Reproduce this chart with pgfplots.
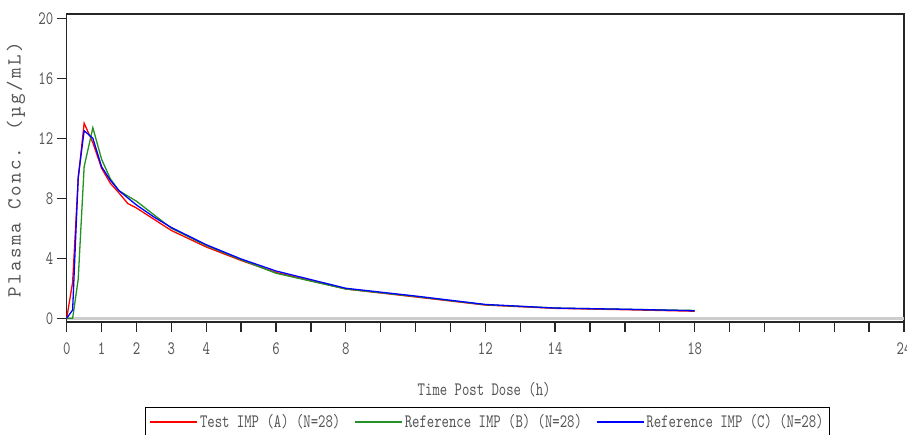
\documentclass[border=0pt]{standalone}
\usepackage{fontspec}
\usepackage{pgfplots}
\pgfplotsset{compat=1.18}
\newfontfamily\narrowmono[Extension=.otf, FakeStretch=0.74]{lmmono10-regular}
\newfontfamily\ylabmono[Extension=.otf, LetterSpace=12]{lmmono10-regular}
\definecolor{lblgray}{RGB}{85,85,85}
\definecolor{sasgreen}{RGB}{35,145,35}
\definecolor{zerogray}{RGB}{205,205,205}

\begin{document}
\begin{tikzpicture}
\begin{axis}[
  at={(0pt,0pt)}, anchor=south west,
  scale only axis, width=837.3pt, height=308pt,
  xmin=0, xmax=24, ymin=-0.25, ymax=20.28,
  xtick={0,1,...,24},
  xticklabels={0,1,2,3,4,,6,,8,,,,12,,14,,,,18,,,,,,24},
  ytick={0,4,8,12,16,20},
  tick align=outside, major tick length=10pt,
  xtick pos=bottom, ytick pos=left,
  tick style={line width=1.3pt, black!85},
  axis line style={line width=1.6pt, black!85},
  /pgf/number format/assume math mode=true,
  tick label style={font=\fontsize{19}{21}\narrowmono, text=lblgray},
  xticklabel style={yshift=-7pt},
  xlabel={Time Post Dose (h)},
  xlabel style={font=\fontsize{19}{21}\narrowmono, text=lblgray,
    at={(axis description cs:0.4986,-0.221)}, anchor=center},
  ylabel={Plasma Conc. (µg/mL)},
  ylabel style={font=\fontsize{20}{22}\ylabmono, text=lblgray,
    at={(axis description cs:-0.0606,0.4935)}, anchor=center, rotate=0},
  legend columns=3,
  legend style={at={(axis description cs:0.5027,-0.276)}, anchor=north,
    line width=1.1pt, fill=white,
    font=\fontsize{19}{21}\narrowmono, text=lblgray,
    inner xsep=4pt, inner ysep=5pt,
    /tikz/every even column/.append style={column sep=12pt}},
  legend image code/.code={\draw[#1, line width=1.5pt] (0pt,0pt) -- (47pt,0pt);},
]
\addplot[zerogray, line width=3pt, forget plot] coordinates {(0,0) (24,0)};
\addplot[color=red, draw=red, line width=1.3pt] coordinates {
(0,0) (0.17,2.4) (0.33,9.3) (0.5,13.0) (0.75,11.7) (1,10.0) (1.25,9.0)
(1.5,8.35) (1.75,7.65) (2,7.35) (2.5,6.6) (3,5.85) (4,4.75) (5,3.85)
(6,3.05) (8,1.95) (10,1.42) (12,0.88) (14,0.66) (16,0.57) (18,0.47)};
\addplot[color=sasgreen, draw=sasgreen, line width=1.3pt] coordinates {
(0,0) (0.17,0) (0.33,2.6) (0.5,10.1) (0.75,12.7) (1,10.6) (1.25,9.3)
(1.5,8.5) (2,7.8) (2.5,6.9) (3,6.0) (4,4.85) (5,3.9)
(6,3.0) (8,1.95) (10,1.45) (12,0.9) (14,0.68) (16,0.6) (18,0.52)};
\addplot[color=blue, draw=blue, line width=1.3pt] coordinates {
(0,0) (0.17,0.55) (0.33,9.4) (0.5,12.5) (0.75,12.0) (1,10.1) (1.25,9.2)
(1.5,8.5) (2,7.55) (2.5,6.75) (3,6.05) (4,4.9) (5,3.95)
(6,3.15) (8,2.0) (10,1.48) (12,0.92) (14,0.68) (16,0.6) (18,0.5)};
\legend{Test IMP (A) (N=28), Reference IMP (B) (N=28), Reference IMP (C) (N=28)}
\end{axis}
\pgfresetboundingbox
\path[use as bounding box] (-66.7pt,-112pt) rectangle (840.3pt,322pt);
\end{tikzpicture}
\end{document}
